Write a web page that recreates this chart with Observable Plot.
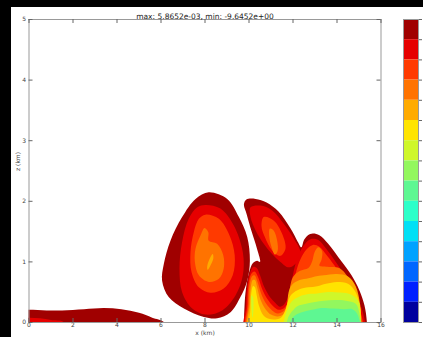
<!DOCTYPE html>
<html><head><meta charset="utf-8">
<script src="https://cdn.jsdelivr.net/npm/d3@7"></script>
<script src="https://cdn.jsdelivr.net/npm/@observablehq/plot@0.6"></script>
<style>
html,body{margin:0;padding:0;background:#000;}
#wrap{position:relative;width:423px;height:337px;overflow:hidden;background:#000;}
#fig{position:absolute;left:11px;top:7px;width:412px;height:330px;background:#fff;}
#main{position:absolute;left:0;top:0;}
#cbar{position:absolute;left:392px;top:12px;}
</style></head>
<body><div id="wrap"><div id="fig"><div id="main"></div><div id="cbar"></div></div></div>
<script>
const title = "max: 5.8652e-03, min: -9.6452e+00";
const xTicks = [0,2,4,6,8,10,12,14,16];
const yTicks = [0,1,2,3,4,5];
const levelColors = ["#a00000","#e60000","#ff3a00","#ff7300","#ffab00","#ffe400","#cff72a","#93f75e","#5ef792","#2cffc9","#00e0f5","#00a2ff","#0066ff","#0020ff","#00009e"];
const cbTicks = [0,1,2,3,4,5,6,7,8,9,10,11,12,13,14,15];

// contour band outlines, (x km, z km)
const stripDark = [[-0.5,-0.3],[-0.5,0.21],[0,0.21],[0.8,0.2],[1.5,0.2],[2.5,0.22],[3.4,0.24],[4.2,0.22],[5.0,0.16],[5.6,0.08],[6.15,0],[6.3,-0.3]];
const stripRed = [[-0.5,-0.3],[-0.5,0.08],[0,0.08],[0.5,0.07],[1.0,0.04],[1.6,0],[1.8,-0.3]];
const blobOuter = [[8.17,2.15],[9.01,2.04],[9.54,1.74],[9.92,1.41],[10.04,1.02],[9.92,0.69],[9.61,0.42],[9.16,0.17],[8.55,0.07],[7.95,0.09],[7.04,0.23],[6.35,0.42],[6.05,0.69],[6.13,0.97],[6.43,1.35],[6.96,1.74],[7.57,2.04]];
const blobRed = [[8.02,1.94],[8.70,1.88],[9.31,1.60],[9.72,1.16],[9.72,0.78],[9.39,0.45],[8.78,0.20],[8.02,0.13],[7.42,0.23],[6.96,0.50],[6.84,0.89],[6.96,1.33],[7.26,1.71],[7.65,1.90]];
const blobOrangeRed = [[8.02,1.78],[8.63,1.71],[9.11,1.44],[9.35,1.11],[9.26,0.78],[8.85,0.56],[8.25,0.49],[7.72,0.58],[7.39,0.83],[7.34,1.16],[7.49,1.49],[7.72,1.71]];
const blobOrange = [[7.98,1.56],[8.15,1.49],[8.17,1.35],[8.55,1.30],[8.83,1.11],[8.85,0.89],[8.63,0.72],[8.17,0.67],[7.72,0.78],[7.54,1.00],[7.57,1.22],[7.80,1.44]];
const blobAmber = [[8.35,1.13],[8.38,1.06],[8.22,0.92],[8.12,0.87],[8.10,0.93],[8.25,1.08]];
const rightOuter = [[9.76,-0.3],[9.77,0.0],[9.8,0.3],[9.86,0.55],[10.0,0.82],[10.18,0.98],[10.37,1.02],[10.5,1.0],[10.36,1.22],[10.12,1.5],[9.9,1.78],[9.77,1.95],[9.88,2.03],[10.3,2.04],[10.8,1.98],[11.34,1.83],[11.89,1.55],[12.22,1.33],[12.38,1.24],[12.5,1.36],[12.68,1.44],[12.9,1.47],[13.2,1.44],[13.6,1.3],[14.2,1.01],[14.66,0.78],[15.02,0.53],[15.25,0.28],[15.36,0.0],[15.37,-0.3]];
const tongueRed = [[10.07,1.90],[10.52,1.93],[11.05,1.85],[11.58,1.63],[12.04,1.38],[12.34,1.16],[12.19,1.00],[11.81,0.91],[11.43,1.00],[11.05,1.13],[10.67,1.30],[10.30,1.52],[10.07,1.74]];
const tongueOrangeRed = [[10.67,1.74],[11.13,1.68],[11.51,1.46],[11.66,1.22],[11.43,1.10],[11.05,1.19],[10.72,1.41],[10.57,1.59]];
const tongueOrange = [[10.95,1.55],[11.12,1.52],[11.28,1.35],[11.3,1.18],[11.18,1.12],[11.02,1.25],[10.92,1.42]];
const lowerRed = [[9.87,-0.3],[9.87,0.3],[9.92,0.6],[10.05,0.82],[10.2,0.92],[10.35,0.9],[10.5,0.78],[10.7,0.58],[10.95,0.42],[11.2,0.32],[11.4,0.26],[11.6,0.3],[11.8,0.45],[11.95,0.7],[12.1,0.95],[12.3,1.15],[12.55,1.3],[12.85,1.38],[13.15,1.36],[13.5,1.22],[14.0,0.97],[14.5,0.7],[14.9,0.43],[15.15,0.2],[15.27,0],[15.27,-0.3]];
const lowerOrangeRed = [[9.93,-0.3],[9.93,0.3],[9.97,0.6],[10.1,0.8],[10.25,0.84],[10.4,0.76],[10.6,0.55],[10.85,0.38],[11.1,0.27],[11.35,0.21],[11.6,0.24],[11.85,0.4],[12.0,0.62],[12.15,0.85],[12.35,1.05],[12.6,1.2],[12.9,1.28],[13.2,1.25],[13.55,1.1],[14.0,0.88],[14.45,0.63],[14.8,0.4],[15.05,0.18],[15.18,0],[15.18,-0.3]];
const lowerOrange = [[9.98,-0.3],[9.98,0.3],[10.02,0.6],[10.13,0.76],[10.25,0.78],[10.38,0.68],[10.55,0.48],[10.8,0.3],[11.05,0.2],[11.3,0.15],[11.55,0.18],[11.75,0.3],[11.85,0.55],[12.0,0.75],[12.3,0.85],[12.7,0.9],[12.88,1.02],[12.98,1.16],[13.15,1.24],[13.32,1.18],[13.3,1.04],[13.2,0.94],[13.5,0.92],[14.1,0.9],[14.5,0.75],[14.85,0.5],[15.05,0.25],[15.12,0],[15.12,-0.3]];
const lowerAmber = [[10.03,-0.3],[10.03,0.3],[10.07,0.55],[10.17,0.7],[10.27,0.7],[10.37,0.58],[10.52,0.38],[10.75,0.22],[11.0,0.13],[11.3,0.1],[11.55,0.13],[11.72,0.28],[11.8,0.5],[11.95,0.62],[12.3,0.7],[12.7,0.73],[13.0,0.76],[13.4,0.78],[14.0,0.8],[14.5,0.76],[14.85,0.6],[15.05,0.3],[15.1,0],[15.1,-0.3]];
const lowerYellow = [[10.06,-0.3],[10.06,0.2],[10.1,0.48],[10.18,0.6],[10.27,0.58],[10.35,0.45],[10.45,0.28],[10.65,0.12],[10.9,0.06],[11.2,0.05],[11.45,0.08],[11.65,0.2],[11.8,0.38],[11.95,0.47],[12.3,0.55],[12.7,0.58],[13.1,0.6],[13.5,0.64],[14.0,0.67],[14.5,0.64],[14.85,0.5],[15.05,0.25],[15.08,0],[15.08,-0.3]];
const lobeSpeck = [[10.12,0.45],[10.18,0.42],[10.2,0.2],[10.16,0.08],[10.12,0.2]];
const lowerYellowGreen = [[11.55,-0.3],[11.6,0.05],[11.75,0.22],[11.95,0.35],[12.3,0.43],[12.7,0.47],[13.1,0.48],[13.5,0.5],[13.9,0.5],[14.3,0.49],[14.7,0.45],[15.0,0.33],[15.05,0],[15.05,-0.3]];
const lowerLightGreen = [[11.72,-0.3],[11.75,0.05],[11.95,0.18],[12.2,0.27],[12.6,0.31],[13.0,0.34],[13.4,0.36],[13.9,0.37],[14.4,0.36],[14.85,0.31],[15.02,0.15],[15.02,-0.3]];
const lowerMint = [[11.85,-0.3],[11.9,0.03],[12.15,0.13],[12.6,0.19],[13.0,0.22],[13.3,0.24],[13.8,0.23],[14.3,0.22],[14.7,0.22],[14.95,0.12],[14.98,-0.3]];

const layers = [
  [0, stripDark], [1, stripRed],
  [0, blobOuter], [1, blobRed], [2, blobOrangeRed], [3, blobOrange], [4, blobAmber],
  [0, rightOuter], [1, tongueRed], [2, tongueOrangeRed], [3, tongueOrange],
  [1, lowerRed], [2, lowerOrangeRed], [3, lowerOrange], [4, lowerAmber], [5, lowerYellow],
  [6, lobeSpeck], [6, lowerYellowGreen], [7, lowerLightGreen], [8, lowerMint]
];
const table = layers.flatMap(([lvl, pts], i) => pts.map(([x, z]) => ({id: i, x, z, color: levelColors[lvl]})));

const main = Plot.plot({
  width: 412, height: 330,
  marginLeft: 17.5, marginRight: 42.5, marginTop: 12, marginBottom: 15,
  x: {domain: [0, 16]}, y: {domain: [0, 5]}, color: {type: "identity"},
  style: {fontFamily: "DejaVu Sans", fontSize: "6px", color: "#333", background: "#fff", overflow: "visible"},
  marks: [
    Plot.line(table, {x: "x", y: "z", z: "id", fill: "color", stroke: "none", curve: "catmull-rom-closed", clip: "frame"}),
    Plot.frame({stroke: "#999"}),
    Plot.ruleX(xTicks, {insetTop: 299, stroke: "#666"}),
    Plot.ruleX(xTicks, {insetBottom: 299, stroke: "#666"}),
    Plot.ruleY(yTicks, {insetRight: 348, stroke: "#666"}),
    Plot.ruleY(yTicks, {insetLeft: 348, stroke: "#666"}),
    Plot.axisX(xTicks, {tickSize: 0, tickPadding: 0.5, label: null, fill: "#444", tickFormat: "d"}),
    Plot.axisY(yTicks, {tickSize: 0, tickPadding: 3, label: null, fill: "#444", tickFormat: "d"}),
    Plot.text([title], {text: d => d, frameAnchor: "top", dy: -6, fontSize: 7.5, fill: "#222"}),
    Plot.text(["x (km)"], {text: d => d, frameAnchor: "bottom", dy: 12, fill: "#444"}),
    Plot.text(["z (km)"], {text: d => d, frameAnchor: "left", dx: -11, rotate: -90, fill: "#444"})
  ]
});
document.getElementById("main").append(main);

const bands = levelColors.map((c, i) => ({lo: 14 - i, hi: 15 - i, color: c}));
const cbar = Plot.plot({
  width: 20, height: 303, marginLeft: 0, marginRight: 5, marginTop: 0, marginBottom: 0,
  x: {domain: [0, 1], axis: null}, y: {domain: [0, 15]}, color: {type: "identity"},
  style: {background: "transparent", overflow: "visible"},
  marks: [
    Plot.rect(bands, {x1: 0, x2: 1, y1: "lo", y2: "hi", fill: "color"}),
    Plot.frame({stroke: "#999"}),
    Plot.axisY(cbTicks, {anchor: "right", tickSize: 3, tickFormat: () => "", label: null, stroke: "#666"})
  ]
});
document.getElementById("cbar").append(cbar);
</script></body></html>
